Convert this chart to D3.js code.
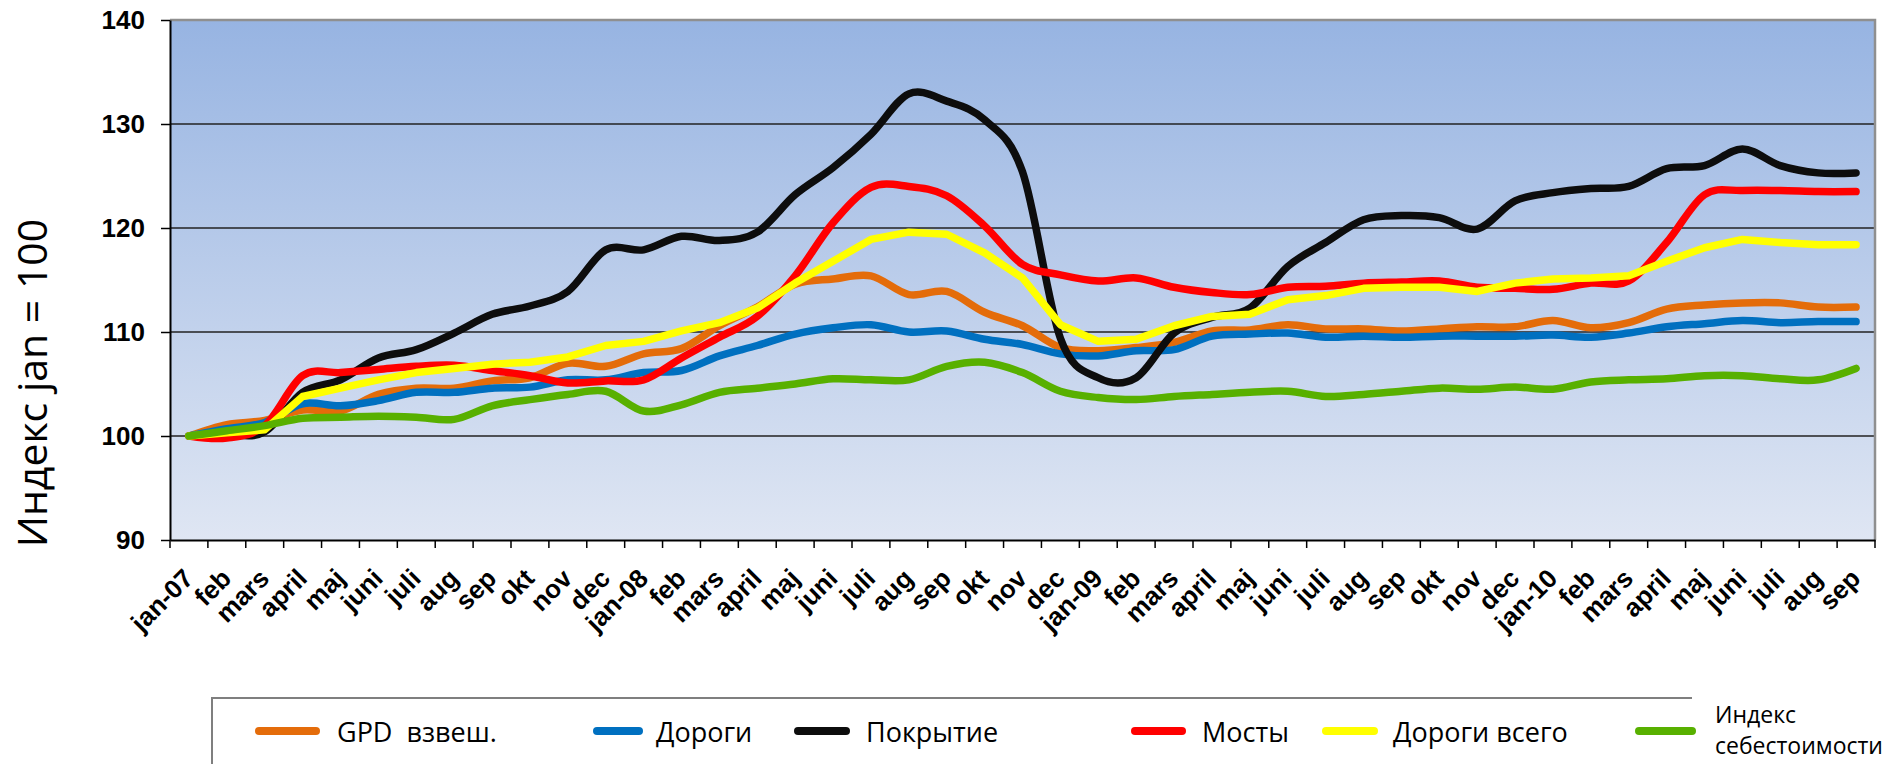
<!DOCTYPE html>
<html lang="ru">
  <head>
    <meta charset="utf-8" />
    <title>index</title>
    <script src="https://d3js.org/d3.v7.min.js"></script>
    <style>
      body {
        margin: 0;
        padding: 0;
        background: #fff;
      }
      svg {
        display: block;
      }
      .axis text {
        font-family: "Liberation Sans", Arial, sans-serif;
        font-weight: bold;
        font-size: 26px;
        fill: #000;
      }
      .legend text, .ytitle {
        font-family: "Open Sans", sans-serif;
        fill: #000;
      }
      .series {
        fill: none;
        stroke-width: 7.5;
        stroke-linecap: round;
        stroke-linejoin: round;
      }
    </style>
  </head>
  <body>
    <svg id="chart" width="1887" height="764"></svg>

    <script>

      // categories (months jan-07 .. sep-10)
      var months = ["jan-07", "feb", "mars", "april", "maj", "juni", "juli", "aug", "sep", "okt", "nov", "dec",
                    "jan-08", "feb", "mars", "april", "maj", "juni", "juli", "aug", "sep", "okt", "nov", "dec",
                    "jan-09", "feb", "mars", "april", "maj", "juni", "juli", "aug", "sep", "okt", "nov", "dec",
                    "jan-10", "feb", "mars", "april", "maj", "juni", "juli", "aug", "sep"];

      var yTicks = [90, 100, 110, 120, 130, 140];

      // series values
      var gpd = [100, 101.1, 101.5, 102.5, 102.4, 104.0, 104.6, 104.6, 105.3, 105.6, 107.0, 106.7, 107.9, 108.4, 110.6,
                 112.4, 114.6, 115.1, 115.4, 113.6, 113.9, 111.9, 110.6, 108.5, 108.2, 108.5, 109.0, 110.1, 110.2, 110.7,
                 110.3, 110.3, 110.1, 110.3, 110.5, 110.5, 111.1, 110.4, 110.9, 112.2, 112.6, 112.8, 112.8, 112.4, 112.4];
      var roads = [100, 100.7, 101.3, 103.1, 102.9, 103.4, 104.2, 104.2, 104.6, 104.7, 105.4, 105.4, 106.1, 106.3, 107.7,
                   108.7, 109.8, 110.4, 110.7, 110.0, 110.1, 109.3, 108.8, 107.9, 107.7, 108.2, 108.3, 109.6, 109.8, 109.9,
                   109.5, 109.6, 109.5, 109.6, 109.6, 109.6, 109.7, 109.5, 109.9, 110.5, 110.8, 111.1, 110.9, 111.0, 111.0];
      var pavement = [100, 100.1, 100.4, 104.2, 105.4, 107.5, 108.3, 109.9, 111.7, 112.5, 113.9, 117.9, 117.9, 119.2, 118.8,
                      119.6, 123.2, 125.8, 129.0, 132.9, 132.2, 130.4, 125.4, 109.4, 105.6, 105.6, 109.9, 111.4, 112.3, 116.3,
                      118.6, 120.8, 121.2, 121.0, 119.9, 122.6, 123.4, 123.8, 124.0, 125.7, 126.0, 127.6, 126.0, 125.3, 125.3];
      var bridges = [100, 99.8, 101.0, 105.8, 106.1, 106.4, 106.7, 106.8, 106.3, 105.8, 105.1, 105.3, 105.4, 107.5, 109.5,
                     111.5, 115.4, 120.5, 123.9, 124.0, 123.1, 120.2, 116.5, 115.5, 114.9, 115.2, 114.3, 113.8, 113.6, 114.3,
                     114.4, 114.7, 114.8, 114.9, 114.3, 114.2, 114.1, 114.7, 114.9, 118.6, 123.2, 123.6, 123.6, 123.5, 123.5];
      var roadsTotal = [100, 100.3, 100.6, 103.8, 104.6, 105.4, 106.1, 106.5, 106.9, 107.1, 107.6, 108.7, 109.1, 110.1, 110.9,
                        112.3, 114.7, 116.8, 118.9, 119.6, 119.4, 117.6, 115.2, 110.7, 109.1, 109.3, 110.6, 111.5, 111.7, 113.1,
                        113.5, 114.2, 114.3, 114.3, 113.9, 114.7, 115.1, 115.2, 115.4, 116.8, 118.1, 118.9, 118.6, 118.4, 118.4];
      var costIndex = [100, 100.5, 101.0, 101.7, 101.8, 101.9, 101.8, 101.6, 102.9, 103.5, 104.0, 104.3, 102.4, 103.0, 104.2,
                       104.6, 105.0, 105.5, 105.4, 105.4, 106.7, 107.1, 106.1, 104.3, 103.7, 103.5, 103.8, 104.0, 104.2, 104.3,
                       103.8, 104.0, 104.3, 104.6, 104.5, 104.7, 104.5, 105.2, 105.4, 105.5, 105.8, 105.8, 105.5, 105.4, 106.5];

      var seriesNames = ["GPD  взвеш.", "Дороги", "Покрытие", "Мосты", "Дороги всего", "Индекс себестоимости"];
      var seriesValues = [gpd, roads, pavement, bridges, roadsTotal, costIndex];
      var seriesColors = ["#e46c0a", "#0070c0", "#0d0d0d", "#ff0000", "#ffff00", "#58b000"];
      // yellow series is drawn with straight segments in the original
      var seriesSmooth = [true, true, true, true, false, true];

      // legend layout
      var legendLine = [[259, 316], [597, 639], [798, 846], [1135, 1182], [1326, 1374], [1639, 1692]];
      var legendText = [337, 656, 866, 1202, 1393, 1715];

      var svg = d3.select("#chart");
      var margin = {top: 20, right: 12, bottom: 224, left: 170};
      var width = +svg.attr("width") - margin.left - margin.right;
      var height = +svg.attr("height") - margin.top - margin.bottom;

      // background gradient of plot area
      var grad = svg.append("defs")
        .append("linearGradient")
        .attr("id", "bg")
        .attr("x1", 0).attr("y1", 0)
        .attr("x2", 0).attr("y2", 1);
      grad.append("stop").attr("offset", "0%").attr("stop-color", "#97b4e2");
      grad.append("stop").attr("offset", "100%").attr("stop-color", "#dfe6f3");

      var g = svg.append("g")
        .attr("transform", "translate(" + margin.left + "," + margin.top + ")");

      // scales
      var x = d3.scaleBand()
        .domain(d3.range(months.length))
        .range([0, width])
        .padding(0);
      var y = d3.scaleLinear()
        .domain([90, 140])
        .range([height, 0]);

      g.append("rect")
        .attr("width", width)
        .attr("height", height)
        .attr("fill", "url(#bg)");

      // gridlines
      g.selectAll(".grid")
        .data(yTicks.slice(1, -1))
        .join("line")
        .attr("class", "grid")
        .attr("x1", 0)
        .attr("x2", width)
        .attr("y1", function(d){ return y(d); })
        .attr("y2", function(d){ return y(d); })
        .attr("stroke", "#222")
        .attr("stroke-width", 1.5);

      // top and right border
      g.append("path")
        .attr("d", "M0," + y(140) + "H" + width + "V" + y(90))
        .attr("fill", "none")
        .attr("stroke", "#8f8f8f")
        .attr("stroke-width", 2.5);

      // y axis
      var yAxis = g.append("g")
        .attr("class", "axis")
        .call(d3.axisLeft(y).tickValues(yTicks).tickSize(9).tickPadding(16).tickSizeOuter(0));
      yAxis.selectAll("line").attr("stroke", "#000").attr("stroke-width", 1.5);
      yAxis.select(".domain").attr("stroke", "#000").attr("stroke-width", 2);

      // x axis: labels centred on categories, ticks between categories
      var xAxis = g.append("g")
        .attr("class", "axis")
        .attr("transform", "translate(0," + height + ")")
        .call(d3.axisBottom(x).tickSize(0).tickSizeOuter(0).tickFormat(function(i){ return months[i]; }));
      xAxis.select(".domain").attr("stroke", "#000").attr("stroke-width", 2);
      xAxis.selectAll(".tick text")
        .attr("x", 0)
        .attr("y", 0)
        .attr("dy", null)
        .attr("text-anchor", "end")
        .attr("transform", "translate(6,40) rotate(-45)");
      xAxis.selectAll(".bound")
        .data(d3.range(months.length + 1))
        .join("line")
        .attr("class", "bound")
        .attr("x1", function(i){ return i < months.length ? x(i) : x.range()[1]; })
        .attr("x2", function(i){ return i < months.length ? x(i) : x.range()[1]; })
        .attr("y1", 0)
        .attr("y2", 8)
        .attr("stroke", "#000")
        .attr("stroke-width", 1.5);

      // lines
      var smoothLine = d3.line()
        .x(function(d, i){ return x(i) + x.bandwidth() / 2; })
        .y(function(d){ return y(d); })
        .curve(d3.curveCardinal.tension(0));
      var straightLine = d3.line()
        .x(function(d, i){ return x(i) + x.bandwidth() / 2; })
        .y(function(d){ return y(d); });

      g.selectAll(".series")
        .data(seriesValues)
        .join("path")
        .attr("class", "series")
        .attr("stroke", function(d, i){ return seriesColors[i]; })
        .attr("d", function(d, i){ return seriesSmooth[i] ? smoothLine(d) : straightLine(d); });

      // y axis title
      svg.append("text")
        .attr("class", "ytitle")
        .attr("transform", "translate(47,383) rotate(-90)")
        .attr("text-anchor", "middle")
        .style("font-size", "41px")
        .text("Индекс jan = 100");

      // legend
      var legend = svg.append("g").attr("class", "legend");
      legend.append("path")
        .attr("d", "M212,764V698H1692")
        .attr("fill", "none")
        .attr("stroke", "#7f7f7f")
        .attr("stroke-width", 2);

      legend.selectAll(".key")
        .data(seriesNames)
        .join("line")
        .attr("class", "key")
        .attr("x1", function(d, i){ return legendLine[i][0]; })
        .attr("x2", function(d, i){ return legendLine[i][1]; })
        .attr("y1", 731)
        .attr("y2", 731)
        .attr("stroke", function(d, i){ return seriesColors[i]; })
        .attr("stroke-width", 8)
        .attr("stroke-linecap", "round");

      legend.selectAll(".name")
        .data(seriesNames.slice(0, 5))
        .join("text")
        .attr("class", "name")
        .attr("x", function(d, i){ return legendText[i]; })
        .attr("y", 742)
        .style("font-size", "27px")
        .style("white-space", "pre")
        .text(function(d){ return d; });

      var last = legend.append("text")
        .attr("class", "name")
        .style("font-size", "23px");
      last.append("tspan")
        .attr("x", legendText[5])
        .attr("y", 723)
        .text(seriesNames[5].split(" ")[0]);
      last.append("tspan")
        .attr("x", legendText[5])
        .attr("y", 754)
        .text(seriesNames[5].split(" ")[1]);

    </script>

  </body>
</html>
